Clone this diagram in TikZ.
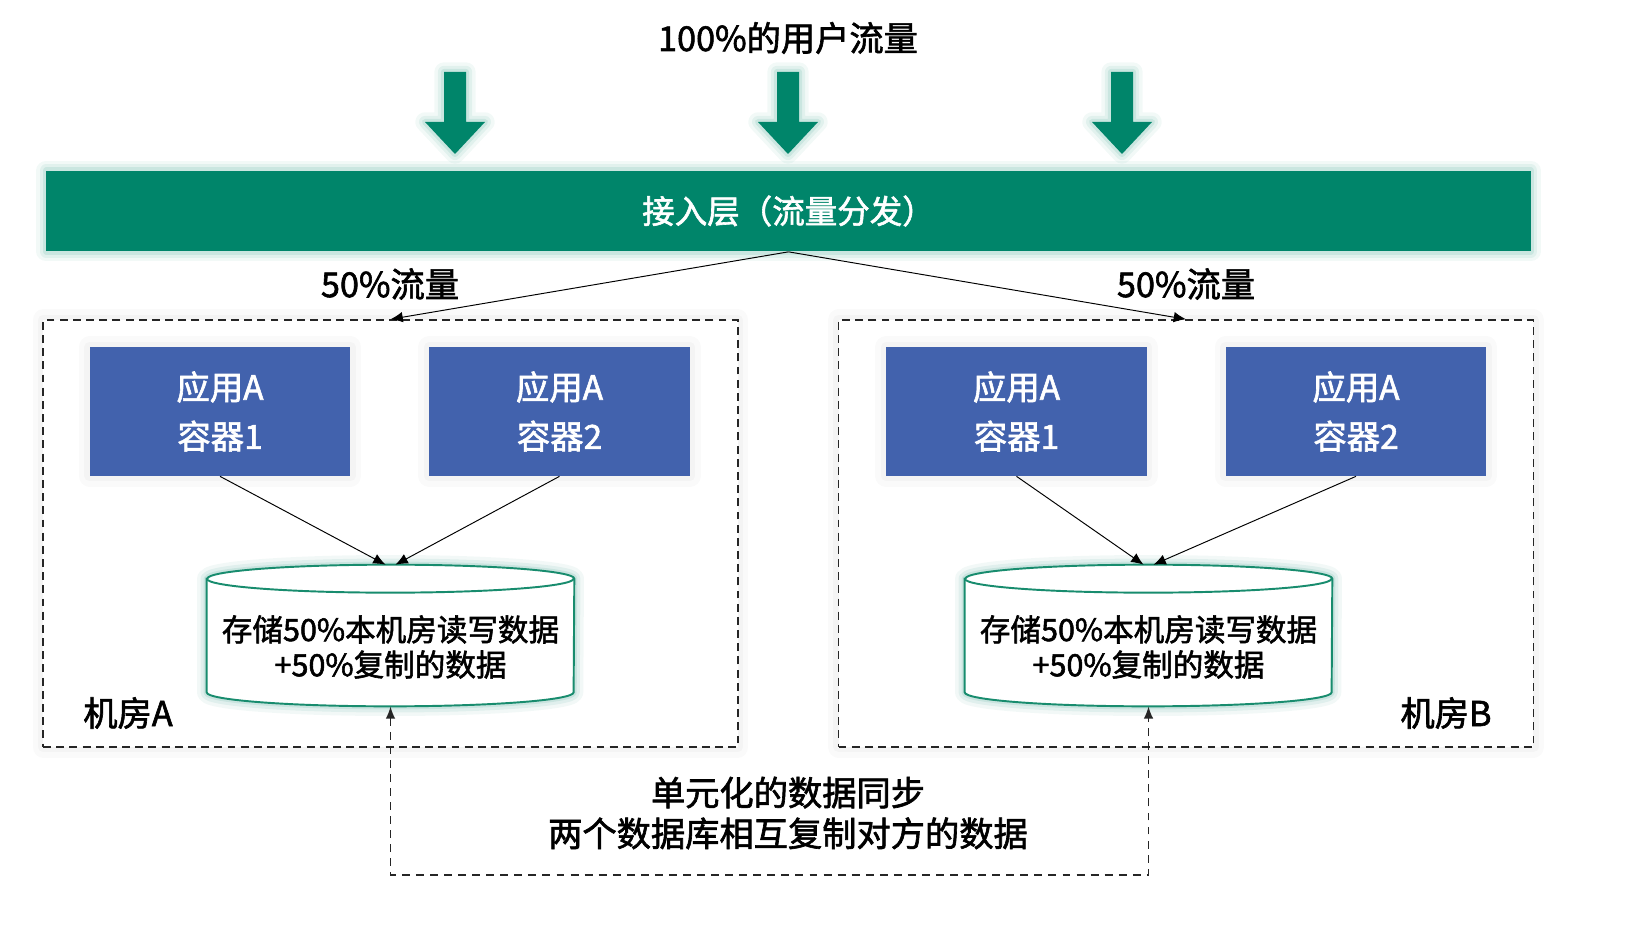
\documentclass[tikz,border=0pt]{standalone}
\usepackage{fontspec}
\setmainfont{Noto Sans CJK SC}[FakeBold=1.8]
\usetikzlibrary{arrows.meta}
\definecolor{flowgreen}{RGB}{0,133,106}
\definecolor{appblue}{RGB}{66,98,173}
\definecolor{dbgreen}{RGB}{24,140,110}

\begin{document}
\begin{tikzpicture}[x=0.02cm,y=-0.02cm,
    glow/.style={preaction={draw=flowgreen,solid,line width=11pt,opacity=0.05,line join=round},
        preaction={draw=flowgreen,solid,line width=7pt,opacity=0.07,line join=round},
        preaction={draw=flowgreen,solid,line width=3.5pt,opacity=0.1,line join=round}},
    haze/.style={preaction={draw=black,solid,line width=12pt,opacity=0.02,line join=round},
        preaction={draw=black,solid,line width=6pt,opacity=0.025,line join=round}},
    bigtext/.style={font=\fontsize{19.5pt}{23.2pt}\selectfont,inner sep=0pt},
    appbox/.style={fill=appblue,haze,text=white,minimum width=5.22cm,minimum height=2.58cm,align=center,inner sep=0pt,font=\fontsize{19pt}{28pt}\selectfont},
    room/.style={draw=black!85,fill=white,haze,dash pattern=on 4.5pt off 3pt,line width=0.9pt,minimum width=13.9cm,minimum height=8.54cm},
    dbbody/.style={minimum width=7.34cm,minimum height=2.54cm,inner sep=0pt},
    dbline/.style={draw=dbgreen,line width=1.1pt},
    dbtext/.style={align=center,inner sep=0pt,font=\fontsize{17.4pt}{20pt}\selectfont},
    link/.style={-{Latex[length=7pt,width=6pt]},line width=0.55pt},
    sync/.style={{Latex[length=7pt,width=5.5pt]}-{Latex[length=7pt,width=5.5pt]},dash pattern=on 4.5pt off 3.5pt,line width=1pt,black!85}
]
\useasboundingbox (0,0) rectangle (1636,935);

% Draw the incoming user traffic
\node[bigtext] (title) at (788,38) {100\%的用户流量};
\foreach \x in {455,788,1122}
    \fill[flowgreen,glow] (\x-11,72) -- (\x+11,72) -- (\x+11,122) -- (\x+30,122)
        -- (\x,154) -- (\x-30,122) -- (\x-11,122) -- cycle;

% Draw the access layer
\node[fill=flowgreen,glow,text=white,minimum width=29.7cm,minimum height=1.62cm,
    font=\fontsize{18.5pt}{22pt}\selectfont] (access) at (788.5,211) {接入层（流量分发）};

% Draw the two rooms
\node[room] (roomA) at (390.5,533.5) {};
\node[room] (roomB) at (1186,533.5) {};
\node[bigtext] (nameA) at (128,713) {机房A};
\node[bigtext] (nameB) at (1446,713) {机房B};

% Split the traffic
\node[bigtext] (shareA) at (390,284) {50\%流量};
\node[bigtext] (shareB) at (1186,284) {50\%流量};
\draw[link] (access.south) -- (roomA.north);
\draw[link] (access.south) -- (roomB.north);

% Draw the app containers
\node[appbox] (appA1) at (220,411.5) {应用A\\容器1};
\node[appbox] (appA2) at (559.5,411.5) {应用A\\容器2};
\node[appbox] (appB1) at (1016.5,411.5) {应用A\\容器1};
\node[appbox] (appB2) at (1356,411.5) {应用A\\容器2};

% Draw the databases
\node[dbbody] (dbA) at (390.5,642.5) {};
\node[dbbody] (dbB) at (1148.5,642.5) {};
\foreach \db in {dbA,dbB} {
    \draw[dbline,fill=white,glow] (\db.north west) -- ([yshift=0.28cm]\db.south west)
        arc[start angle=180,end angle=360,x radius=3.67cm,y radius=0.28cm]
        -- (\db.north east) arc[start angle=0,end angle=180,x radius=3.67cm,y radius=0.28cm] -- cycle;
    \draw[dbline] (\db.north west) arc[start angle=180,end angle=360,x radius=3.67cm,y radius=0.28cm];
    \coordinate (\db top) at ([yshift=0.28cm]\db.north);
}
\node[dbtext] (dataA) at ([yshift=-0.09cm]dbA.center) {存储50\%本机房读写数据\\+50\%复制的数据};
\node[dbtext] (dataB) at ([yshift=-0.09cm]dbB.center) {存储50\%本机房读写数据\\+50\%复制的数据};

% Apps write to their local database
\draw[link] (appA1.south) -- ([xshift=-0.1cm]dbAtop);
\draw[link] (appA2.south) -- ([xshift=0.1cm]dbAtop);
\draw[link] (appB1.south) -- ([xshift=-0.1cm]dbBtop);
\draw[link] (appB2.south) -- ([xshift=0.1cm]dbBtop);

% Sync the two databases
\coordinate (syncbase) at (788,875);
\draw[sync] (dbA.south) -- (dbA.south |- syncbase) -- (dbB.south |- syncbase) -- (dbB.south);
\node[bigtext,align=center] (syncnote) at (788,813) {单元化的数据同步\\两个数据库相互复制对方的数据};
\end{tikzpicture}
\end{document}
